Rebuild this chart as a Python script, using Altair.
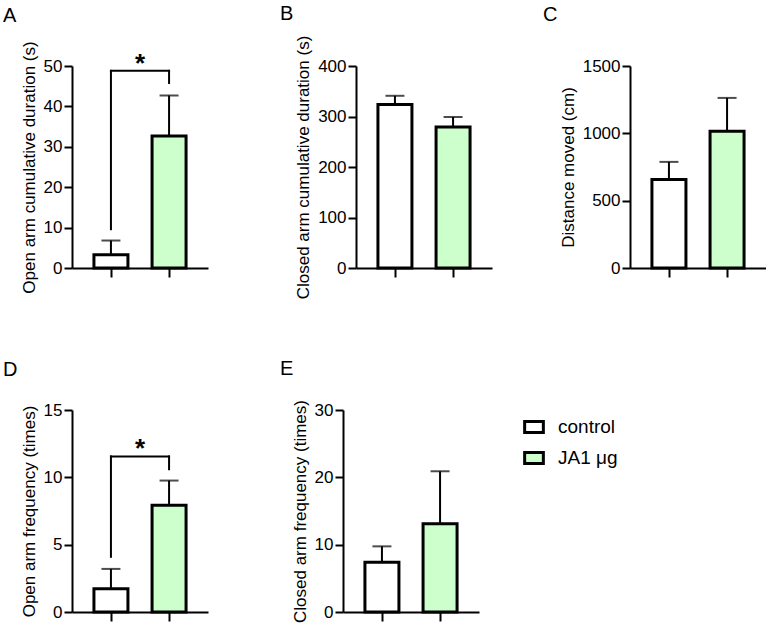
import altair as alt
import pandas as pd

# ---------------- data ----------------
groups = ["control", "JA1 μg"]
group_pos = [1, 2]

open_dur_mean = [3.3, 32.7]
open_dur_sem = [3.5, 10.0]
closed_dur_mean = [324, 279]
closed_dur_sem = [17, 20]
distance_mean = [658, 1016]
distance_sem = [130, 247]
open_freq_mean = [1.72, 7.92]
open_freq_sem = [1.48, 1.84]
closed_freq_mean = [7.4, 13.1]
closed_freq_sem = [2.35, 7.8]

# significance brackets: top of bracket, bottom of left leg, bottom of right leg
sig_A = [48.8, 9.6, 45.8]
sig_D = [11.55, 4.1, 10.6]
sig_label = "*"

# ---------------- style ----------------
FONT = "Liberation Sans"
GREEN = "#CCFFCC"
PLOT_W = 136
PLOT_H = 202


def panel(mean, sem, ytitle, ymax, ystep, letter, title_dx, title_offset,
          width=PLOT_W, sig=None, legend=None):
    df = pd.DataFrame({"group": groups, "pos": group_pos, "mean": mean, "sem": sem})
    df["upper"] = df["mean"] + df["sem"]

    xscale = alt.Scale(domain=[0.33, 2.67], range=[0, PLOT_W], nice=False, zero=False, padding=0)
    yscale = alt.Scale(domain=[0, ymax], nice=False, zero=True, padding=0)
    xaxis = alt.Axis(values=group_pos, labels=False, title=None, grid=False,
                     tickSize=9, tickWidth=2, tickColor="black",
                     domainWidth=2, domainColor="black")
    yaxis = alt.Axis(values=list(range(0, ymax + 1, ystep)), title=ytitle, grid=False,
                     format="d",
                     tickSize=8, tickWidth=2, tickColor="black",
                     domainWidth=2, domainColor="black",
                     labelFontSize=17, labelFont=FONT, labelColor="black",
                     labelFlush=False, labelPadding=2, labelOverlap=False,
                     titleFontSize=17, titleFont=FONT, titleFontWeight="normal",
                     titleColor="black", titlePadding=5)

    base = alt.Chart(df)
    x = alt.X("pos:Q", scale=xscale, axis=xaxis)

    err = base.mark_rule(color="black", strokeWidth=2).encode(
        x=x, y=alt.Y("mean:Q", scale=yscale, axis=yaxis), y2="upper:Q")
    cap = base.mark_tick(orient="horizontal", size=19, thickness=2, color="black").encode(
        x=x, y=alt.Y("upper:Q", scale=yscale, axis=yaxis))
    bars = base.mark_bar(width=34, stroke="black", strokeWidth=3).encode(
        x=x,
        y=alt.Y("mean:Q", scale=yscale, axis=yaxis),
        fill=alt.Fill("group:N", scale=alt.Scale(domain=groups, range=["white", GREEN]),
                      legend=legend),
    )
    layers = [err, cap, bars]

    if sig is not None:
        sdf = pd.DataFrame({"x1": [group_pos[0]], "x2": [group_pos[1]],
                            "xm": [(group_pos[0] + group_pos[1]) / 2],
                            "top": [sig[0]], "lb": [sig[1]], "rb": [sig[2]],
                            "label": [sig_label]})
        sb = alt.Chart(sdf)
        sx1 = alt.X("x1:Q", scale=xscale, axis=xaxis)
        sx2 = alt.X("x2:Q", scale=xscale, axis=xaxis)
        rule_kw = dict(color="black", strokeWidth=2, strokeCap="square")
        layers += [
            sb.mark_rule(**rule_kw).encode(x=sx1, y=alt.Y("lb:Q", scale=yscale, axis=yaxis), y2="top:Q"),
            sb.mark_rule(**rule_kw).encode(x=sx2, y=alt.Y("rb:Q", scale=yscale, axis=yaxis), y2="top:Q"),
            sb.mark_rule(**rule_kw).encode(x=sx1, x2="x2:Q", y=alt.Y("top:Q", scale=yscale, axis=yaxis)),
            sb.mark_text(font=FONT, fontSize=26, fontWeight="bold", baseline="alphabetic",
                         color="black", dy=1).encode(
                x=alt.X("xm:Q", scale=xscale, axis=xaxis),
                y=alt.Y("top:Q", scale=yscale, axis=yaxis),
                text="label:N"),
        ]

    return alt.layer(*layers).properties(
        width=width, height=PLOT_H,
        title=alt.TitleParams(text=letter, anchor="start", frame="group", font=FONT,
                              fontSize=20, fontWeight="normal", color="black",
                              baseline="alphabetic", dx=title_dx, offset=title_offset),
    )


legend_E = alt.Legend(orient="none", legendX=180, legendY=6, title=None,
                      symbolType="M-1,-0.58H1V0.58H-1Z", symbolSize=350,
                      symbolStrokeWidth=3, symbolStrokeColor="black", symbolOpacity=1,
                      labelFont=FONT, labelFontSize=19, labelColor="black",
                      labelOffset=13, rowPadding=7)

A = panel(open_dur_mean, open_dur_sem, "Open arm cumulative duration (s)", 50, 10,
          "A", -69, -1, width=146, sig=sig_A)
B = panel(closed_dur_mean, closed_dur_sem, "Closed arm cumulative duration (s)", 400, 100,
          "B", -76, -5)
C = panel(distance_mean, distance_sem, "Distance moved (cm)", 1500, 500,
          "C", -87, 16)
D = panel(open_freq_mean, open_freq_sem, "Open arm frequency (times)", 15, 5,
          "D", -69, 5, sig=sig_D)
E = panel(closed_freq_mean, closed_freq_sem, "Closed arm frequency (times)", 30, 10,
          "E", -63, 5, legend=legend_E)

row1 = alt.hconcat(A, B, C, spacing=138, bounds="flush")
row2 = alt.hconcat(D, E, spacing=135, bounds="flush").resolve_scale(fill="independent")

chart = (
    alt.vconcat(row1, row2, spacing=59)
    .resolve_scale(fill="independent")
    .properties(padding={"left": 3, "top": 4, "right": 0, "bottom": 0}, background="white")
    .configure_view(stroke=None)
)

chart.save("out.html", embed_options={"renderer": "svg", "actions": False})
